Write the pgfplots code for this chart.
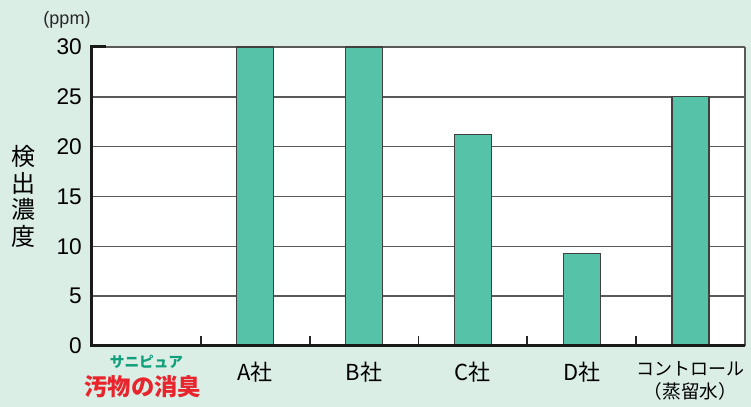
\documentclass[border=0pt]{standalone}
\usepackage{fontspec}
\setmainfont{Noto Sans CJK JP}
\newfontfamily\numfont{Liberation Sans}
\usepackage{pgfplots}
\pgfplotsset{compat=1.18}
\definecolor{bg}{HTML}{DAEEE6}
\definecolor{barc}{HTML}{56C3A9}
\definecolor{sgreen}{HTML}{12A07C}
\definecolor{sred}{HTML}{E8242C}
\begin{document}
\begin{tikzpicture}
\fill[bg] (-69pt,-45.75pt) rectangle (494.25pt,259.5pt);
\begin{axis}[
  at={(0pt,0pt)}, anchor=south west, scale only axis,
  width=489.75pt, height=224.25pt,
  xmin=-0.5, xmax=5.5, ymin=0, ymax=30,
  axis background/.style={fill=white},
  axis line style={draw=none},
  ytick={0,5,...,30},
  ymajorgrids,
  major grid style={color=black!65, line width=1.1pt},
  ytick style={draw=none},
  yticklabel style={font=\numfont\fontsize{17}{17}\selectfont, anchor=east, inner sep=0pt, xshift=-7.5pt},
  /pgf/number format/assume math mode=true,
  xtick={1,2,3,4,5},
  xticklabels={A社,B社,C社,D社,{\fontsize{13.5}{17.25}\selectfont コントロール\\\fontsize{14}{17.25}\selectfont （蒸留水）}},
  xticklabel style={font=\fontsize{16.5}{17.25}\selectfont, anchor=north, inner sep=0pt, yshift=-11.5pt, align=center},
  major x tick style={draw=none},
  minor xtick={0.5,1.5,2.5,3.5,4.5},
  minor tick length=7.5pt,
  tick align=inside,
  xtick pos=bottom, ytick pos=left,
  minor x tick style={black!85, line width=1.4pt},
  ylabel={検\\出\\濃\\度},
  every axis y label/.style={at={(axis description cs:0,0.5)}, anchor=center, xshift=-51pt, align=center, font=\fontsize{18}{20}\selectfont},
  clip=false,
]
\addplot[ybar, bar width=27.75pt, fill=barc, draw=black!75, line width=0.9pt] coordinates {(1,30) (2,30) (3,21.2) (4,9.3) (5,25)};
\draw[black!65, line width=1pt] (axis cs:5.5,0) -- (axis cs:5.5,30);
\draw[black!90, line width=2.25pt] ([xshift=10.5pt]axis cs:-0.5,30) -- (axis cs:-0.5,30) -- (axis cs:-0.5,0) -- (axis cs:5.5,0);
\node[font=\numfont\fontsize{13.5}{14}\selectfont, text=black!85] at ([xshift=-18.75pt, yshift=20.25pt]axis description cs:0,1) {(ppm)};
\node[font=\fontsize{11}{12}\selectfont\bfseries, text=sgreen] at ([yshift=-12pt]axis cs:0,0) {サニピュア};
\node[font=\fontsize{17.5}{19}\selectfont\bfseries, text=sred] at ([xshift=-2.6pt, yshift=-30.75pt]axis cs:0,0) {汚物の消臭};
\end{axis}
\end{tikzpicture}
\end{document}
